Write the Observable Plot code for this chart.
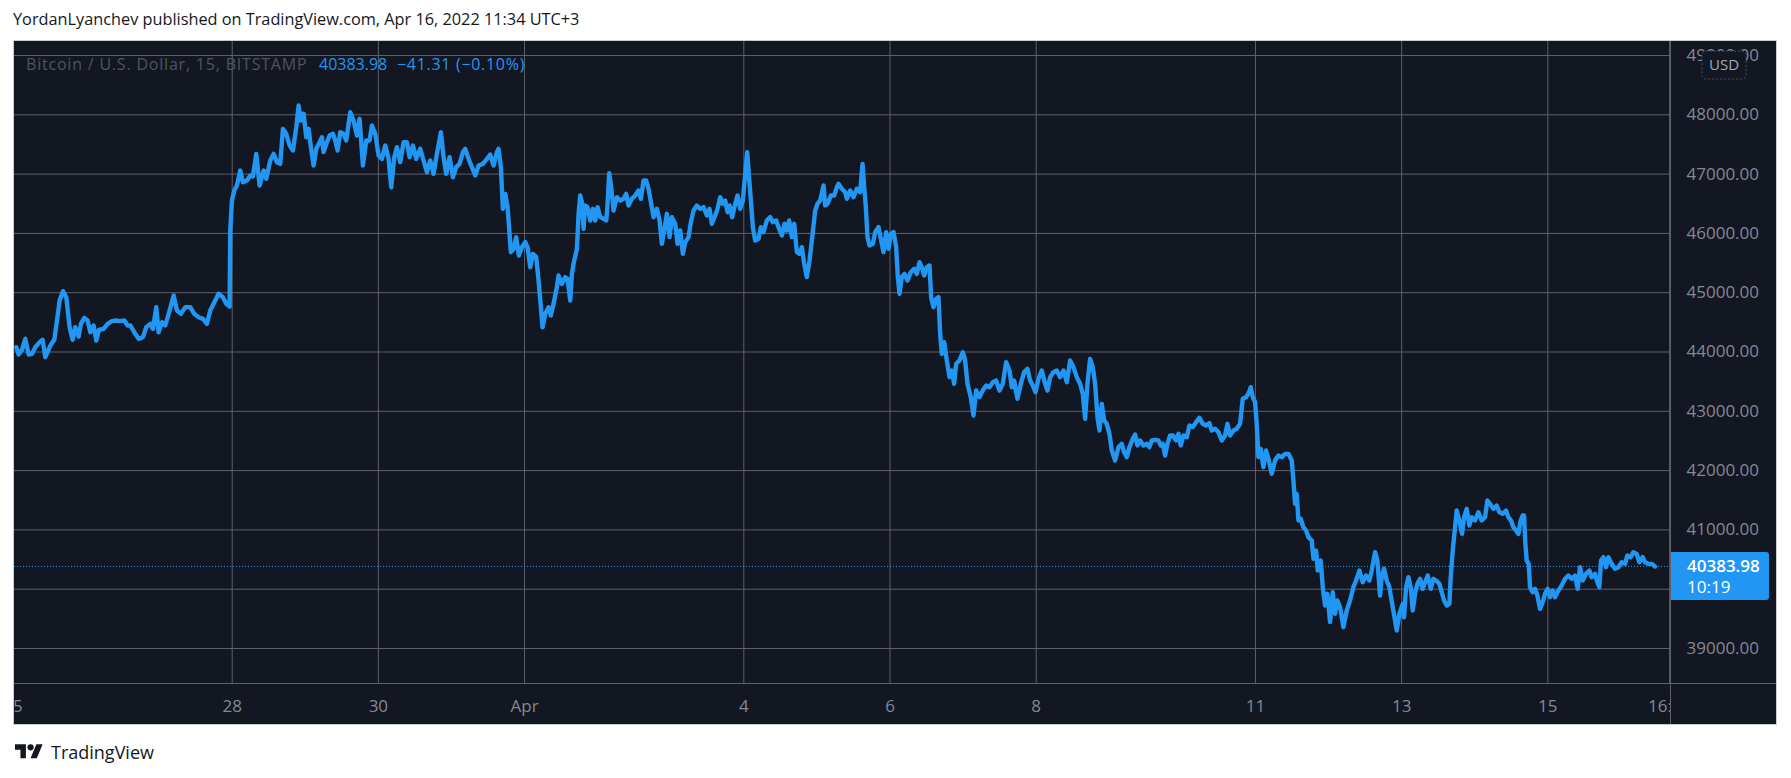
<!DOCTYPE html>
<html><head><meta charset="utf-8">
<script src="https://cdn.jsdelivr.net/npm/d3@7"></script>
<script src="https://cdn.jsdelivr.net/npm/@observablehq/plot@0.6"></script>
<style>
html,body{margin:0;padding:0;background:#fff;}
body{width:1791px;height:778px;position:relative;overflow:hidden;font-family:"Open Sans",sans-serif;}
#title{position:absolute;left:13px;top:8px;font-size:16.3px;color:#131722;white-space:nowrap;}
#chart{position:absolute;left:14px;top:41px;width:1762px;height:683px;outline:1px solid #c9ccd3;}
.lg{position:absolute;top:53px;font-size:16px;white-space:nowrap;}
#lgSym{left:26px;color:#50535e;letter-spacing:0.8px;}
#lgPrice{left:319px;color:#2196f3;}
#lgChange{left:397px;color:#2196f3;letter-spacing:0.7px;}
#footer{position:absolute;left:15px;top:740px;display:flex;align-items:center;gap:8px;font-size:18px;color:#131722;}
</style></head><body>
<div id="title"></div>
<div id="chart"></div>
<div id="lgSym" class="lg"></div>
<div id="lgPrice" class="lg"></div>
<div id="lgChange" class="lg"></div>
<div id="footer"><svg width="28" height="22" viewBox="0 0 36 28"><path fill="#131722" d="M14 22H7V11H0V4h14v18zM28 22h-8l7.5-18h8L28 22z"/><circle fill="#131722" cx="20" cy="8" r="4"/></svg><span id="brand"></span></div>
<script>
// ---- data (hours since 2022-03-25 00:00, chart time UTC+3) ----
const titleText = "YordanLyanchev published on TradingView.com, Apr 16, 2022 11:34 UTC+3";
const symbolText = "Bitcoin / U.S. Dollar, 15, BITSTAMP";
const lastPrice = 40383.98;
const changeText = "\u221241.31 (\u22120.10%)";
const countdownText = "10:19";
const currencyText = "USD";
const brandText = "TradingView";

const hours = [1.12,1.88,2.98,4.07,5.17,6.26,7.35,8.78,9.76,10.64,11.40,12.28,13.59,14.47,15.34,16.44,17.53,18.62,19.61,20.48,21.58,22.34,23.44,24.53,25.41,26.50,27.38,28.25,29.79,31.10,32.52,33.94,35.26,36.57,37.67,38.54,39.85,41.28,42.70,43.79,45.11,45.98,47.08,47.84,48.94,50.03,51.45,52.77,53.86,55.17,56.60,58.24,59.55,60.97,62.40,63.71,64.80,65.90,67.54,68.96,70.06,71.15,71.37,71.92,72.68,73.56,74.65,75.53,76.84,77.94,78.81,79.91,81.00,82.32,83.19,84.50,85.60,86.69,87.78,88.66,89.75,90.85,
91.95,93.04,93.81,94.57,95.45,96.32,97.09,97.85,98.73,99.61,100.70,101.47,102.01,102.89,103.98,105.08,105.84,106.61,107.48,108.58,109.45,110.22,110.77,111.86,112.96,113.83,114.93,116.02,117.11,117.88,118.98,120.07,121.16,122.26,123.35,124.23,125.21,126.09,127.18,128.28,129.37,130.25,131.34,132.43,133.75,134.84,135.94,137.03,138.12,139.22,140.53,141.41,142.28,143.38,144.47,145.57,146.66,147.75,148.52,149.61,150.71,151.80,152.90,154.32,155.64,156.73,157.83,158.92,159.46,160.23,160.89,161.65,162.42,163.08,163.51,164.39,165.26,166.14,167.13,168.22,168.98,169.86,170.74,171.83,172.60,173.36,173.91,174.78,175.88,176.64,177.52,178.61,179.16,180.25,181.35,182.11,
183.00,183.55,184.09,185.19,185.74,186.28,186.83,187.38,187.92,188.69,189.57,190.44,191.21,191.97,192.85,193.94,194.82,195.26,195.80,196.46,197.23,198.32,199.41,200.51,201.38,202.15,203.24,204.34,205.43,206.20,207.07,207.95,208.72,209.59,210.36,211.45,212.33,213.09,213.86,214.73,215.61,216.38,217.47,218.24,219.11,219.99,220.75,221.85,222.61,223.49,224.58,225.68,226.77,227.87,228.74,229.51,230.60,231.37,232.24,233.12,233.88,234.65,235.31,236.18,237.17,237.93,238.81,239.68,240.45,241.11,241.76,242.31,242.97,243.73,244.83,245.59,246.47,247.56,248.66,249.53,250.63,251.39,252.49,253.37,254.13,254.90,255.77,256.54,257.41,258.29,259.06,259.82,260.70,261.58,262.34,263.43,264.20,265.07,266.17,266.72,267.48,268.58,269.67,270.54,271.09,272.18,273.28,273.83,
274.92,276.01,277.11,278.20,278.97,279.52,280.06,280.61,281.27,282.36,283.13,284.22,284.99,285.86,286.74,287.50,288.27,289.15,290.02,290.57,291.12,291.88,292.76,293.74,294.84,295.93,296.81,297.68,298.45,299.21,300.09,300.96,301.51,302.28,303.15,303.92,304.47,305.01,305.78,306.65,307.53,308.30,309.06,309.72,310.81,311.91,312.67,313.44,314.53,315.41,316.28,317.38,318.47,319.57,320.66,321.76,322.85,323.95,325.04,326.13,327.23,327.99,328.76,329.85,330.95,332.04,333.14,334.01,334.89,335.76,336.75,337.84,338.94,339.70,340.58,341.67,342.77,343.86,344.96,346.05,347.14,348.24,349.33,350.43,351.30,352.07,352.83,353.71,354.58,355.35,356.12,356.77,357.54,358.30,359.18,360.05,360.82,361.91,363.01,364.10,364.87,365.75,366.62,
367.72,368.48,369.25,370.12,371.22,372.31,373.19,373.95,375.05,376.14,376.91,377.56,378.33,379.10,379.97,380.85,381.94,382.71,383.47,384.35,385.44,386.32,387.41,388.51,389.60,390.70,391.79,392.88,393.65,394.75,395.84,396.93,398.03,398.79,399.67,400.76,401.86,402.95,403.83,404.92,405.69,406.45,407.11,407.88,408.42,408.97,409.74,410.61,411.49,412.25,413.35,414.44,415.54,416.63,417.73,418.82,419.91,420.46,421.01,421.56,422.10,422.87,423.74,424.62,425.39,426.48,427.03,427.90,428.45,429.43,430.09,430.86,431.62,432.50,433.37,434.14,434.90,435.78,436.87,437.97,439.06,440.16,441.03,442.13,443.22,444.32,445.41,446.18,447.27,448.04,448.91,449.46,450.22,451.10,451.97,453.07,454.38,455.26,
456.36,456.79,457.45,458.22,458.98,459.64,460.40,461.17,462.05,462.92,463.69,464.56,465.55,466.42,467.30,468.39,469.16,469.92,470.80,471.68,472.11,472.77,473.54,474.08,474.96,475.83,476.49,477.37,478.24,479.01,480.10,481.20,482.29,483.39,484.15,485.03,486.12,487.21,488.09,489.18,490.28,491.05,491.92,492.69,493.56,494.33,495.09,495.75,496.19,496.63,497.06,497.72,498.16,499.03,499.80,500.57,501.44,502.32,503.08,503.96,504.72,505.60,506.37,507.46,508.55,509.65,510.74,511.84,512.93,513.81,514.57,515.45,516.54,517.64,518.40,519.50,520.26,520.92,521.47,522.23,523.11,523.88,524.97,526.06,527.16,528.25,529.35,530.11,531.21,532.08,533.18,534.05,535.15,535.91,537.01,538.10,539.19];

const prices = [44081,43958,44036,44222,43958,43969,44081,44166,44205,43913,43997,44109,44205,44531,44868,45026,44924,44419,44205,44419,44261,44475,44576,44531,44334,44447,44194,44373,44390,44475,44520,44531,44520,44531,44447,44447,44334,44222,44250,44419,44475,44390,44756,44334,44503,44447,44700,44953,44700,44643,44756,44756,44643,44587,44559,44475,44700,44812,44981,44924,44812,44767,46049,46554,46723,46807,47060,46864,46892,46976,46959,47341,46807,47060,46920,47229,47341,47201,47173,47763,47679,47482,
47398,47791,48156,47903,48016,47622,47763,47454,47145,47426,47538,47622,47370,47510,47651,47679,47566,47398,47707,47679,47566,47847,48044,47903,47651,47932,47145,47566,47566,47819,47679,47313,47257,47482,47257,46779,47285,47454,47201,47538,47538,47285,47482,47257,47426,47229,47032,47229,47004,47341,47707,47285,47004,47285,46948,47117,47173,47370,47426,47257,47117,46976,47145,47173,47257,47330,47145,47370,47426,47117,46414,46667,46442,45992,45683,45739,45936,45627,45768,45852,45768,45430,45655,45599,45205,44756,44418,44643,44756,44615,44812,45093,45290,45149,45262,45234,
44869,45318,45487,45740,46330,46639,46527,46077,46471,46443,46218,46414,46218,46443,46274,46246,46218,46499,47016,46780,46386,46611,46555,46583,46667,46471,46583,46639,46724,46583,46892,46892,46752,46499,46274,46414,46218,45824,46049,46330,45937,46274,46162,45824,46049,45656,45852,45937,46190,46386,46471,46414,46443,46302,46414,46162,46302,46414,46611,46499,46555,46358,46471,46274,46499,46639,46414,46555,47005,47370,46920,46555,46105,45880,45908,46105,46021,46218,46274,46190,46218,46105,45965,46162,46049,46218,45937,46162,45684,45656,45768,45487,45262,45543,45880,46386,46499,46555,46808,46471,46499,46639,46639,46780,46836,46752,46696,46583,
46723,46611,46752,46695,47173,46780,46442,45937,45796,45824,46021,46105,45908,45684,46021,45740,45993,46021,45768,45262,44981,45262,45318,45206,45346,45403,45318,45515,45431,45290,45431,45459,44925,44756,44897,44925,44306,43969,44166,43857,43576,43688,43463,43801,43857,43997,43857,43463,43239,42929,43351,43239,43351,43435,43407,43491,43519,43351,43463,43829,43688,43407,43519,43210,43463,43660,43716,43519,43435,43323,43548,43688,43463,43351,43576,43660,43688,43576,43688,43491,43857,43744,43576,43463,43295,42873,43463,43885,43744,43463,42901,42676,43126,42845,42789,42620,42339,42170,42395,42451,42311,42227,42395,
42536,42609,42424,42508,42424,42452,42396,42508,42519,42508,42424,42452,42255,42452,42592,42592,42508,42620,42424,42592,42564,42761,42733,42817,42890,42789,42761,42800,42677,42705,42649,42508,42592,42789,42592,42677,42705,42789,43211,43239,43295,43407,43239,43154,42789,42227,42367,42058,42339,42199,41946,42171,42255,42227,42283,42283,42171,41833,41440,41608,41159,41187,41047,40990,40878,40822,40513,40653,40316,40484,40035,39725,39922,39445,39950,39585,39810,39698,39360,39641,39810,40035,40146,40316,40119,40231,40146,40316,40625,40484,39894,40203,40344,40146,40035,39698,39304,39585,
39753,39528,40034,40203,40034,39641,39922,40090,40175,40006,40118,40231,40006,40175,40146,40090,39950,39809,39725,39753,40203,40652,41046,41327,41158,40933,41214,41355,41074,41214,41158,41299,41158,41214,41496,41439,41355,41411,41299,41271,41327,41214,41158,41046,40990,40933,41158,41242,41242,40765,40484,40428,40034,39950,40006,39893,39669,39781,39922,40006,39865,39978,39865,39978,40062,40175,40231,40175,40231,40006,40371,40146,40259,40315,40203,40259,40118,40034,40484,40540,40371,40540,40428,40343,40371,40456,40428,40568,40540,40624,40596,40456,40540,40456,40428,40428,40383.98];

const priceTicks = [39000,40000,41000,42000,43000,44000,45000,46000,47000,48000,49000];
const timeTickHours = [0,72,120,168,240,288,336,408,456,504,544];
const timeTickLabels = ["25","28","30","Apr","4","6","8","11","13","15","16:00"];
const xView = [0.52, 544.28];      // visible time window (hours)
const yView = [38410, 49236];      // visible price window

// ---- chart ----
const BG = "#131722", GRID = "#5e616b", AXIS_TXT = "#858893", BLUE = "#2196f3";
const data = hours.map((h, i) => ({h, p: prices[i]}));
const labelOf = new Map(timeTickHours.map((h, i) => [h, timeTickLabels[i]]));
// like TradingView, a scale label that collides with the last-price badge is hidden
const priceLabelTicks = priceTicks.filter(v => Math.abs(v - lastPrice) > 500);

document.getElementById("title").textContent = titleText;
document.getElementById("lgSym").textContent = symbolText;
document.getElementById("lgPrice").textContent = lastPrice.toFixed(2);
document.getElementById("lgChange").textContent = changeText;
document.getElementById("brand").textContent = brandText;

const W = 1762, H = 683;
const chart = Plot.plot({
  width: W, height: H,
  marginTop: 0, marginLeft: 0, marginRight: 106, marginBottom: 41,
  style: {background: BG, color: AXIS_TXT, fontFamily: "'Open Sans', sans-serif", fontSize: "17px", overflow: "hidden"},
  x: {type: "linear", domain: xView, label: null},
  y: {domain: yView, label: null},
  marks: [
    Plot.gridX(timeTickHours, {stroke: GRID, strokeOpacity: 1}),
    Plot.gridY(priceTicks, {stroke: GRID, strokeOpacity: 1}),
    Plot.ruleY([lastPrice], {stroke: BLUE, strokeWidth: 1, strokeDasharray: "1,2"}),
    Plot.line(data, {x: "h", y: "p", stroke: BLUE, strokeWidth: 4.4, strokeLinejoin: "round", strokeLinecap: "round", clip: true}),
    Plot.axisY(priceLabelTicks, {anchor: "right", tickSize: 0, tickPadding: 16, label: null, tickFormat: d => d.toFixed(2), fill: AXIS_TXT}),
    Plot.axisX(timeTickHours, {anchor: "bottom", tickSize: 0, tickPadding: 16, label: null, tickFormat: d => labelOf.get(d), fill: AXIS_TXT})
  ]
});
document.getElementById("chart").appendChild(chart);

// ---- chrome drawn from the plot's scales ----
const svg = d3.select(chart);
const xs = chart.scale("x"), ys = chart.scale("y");
const xr = xs.range[1], yb = ys.range[0];
const defs = svg.append("defs");
defs.append("clipPath").attr("id", "plotClipX").append("rect").attr("x", 0).attr("y", 0).attr("width", xr).attr("height", H);
svg.selectAll('g[aria-label="x-axis tick label"]').attr("clip-path", "url(#plotClipX)");

svg.append("line").attr("x1", xr + 0.5).attr("x2", xr + 0.5).attr("y1", 0).attr("y2", H).attr("stroke", GRID);
svg.append("line").attr("x1", 0).attr("x2", W).attr("y1", yb + 0.5).attr("y2", yb + 0.5).attr("stroke", GRID);

// last-price badge
const py = ys.apply(lastPrice);
const bx = xr + 1, bw = 98, btop = py - 14, bh = 48, r = 3;
svg.append("path").attr("fill", BLUE)
  .attr("d", `M${bx},${btop}H${bx + bw - r}Q${bx + bw},${btop} ${bx + bw},${btop + r}V${btop + bh - r}Q${bx + bw},${btop + bh} ${bx + bw - r},${btop + bh}H${bx}Z`);
svg.append("text").attr("x", xr + 17).attr("y", py).attr("dy", "0.35em").attr("text-anchor", "start").attr("fill", "#fff")
  .attr("font-size", 17).attr("font-weight", 600).text(lastPrice.toFixed(2));
svg.append("text").attr("x", xr + 17).attr("y", py + 21).attr("dy", "0.35em").attr("text-anchor", "start").attr("fill", "#fff")
  .attr("font-size", 17).text(countdownText);

// currency badge
const ux = xr + 32, uy = 10;
svg.append("rect").attr("x", ux).attr("y", uy).attr("width", 44).attr("height", 28).attr("rx", 4)
  .attr("fill", BG).attr("stroke", "#4c505b").attr("stroke-dasharray", "2,2");
svg.append("text").attr("x", ux + 22).attr("y", uy + 14).attr("dy", "0.35em").attr("text-anchor", "middle")
  .attr("fill", "#a5a8b1").attr("font-size", 15).text(currencyText);
</script>
</body></html>
